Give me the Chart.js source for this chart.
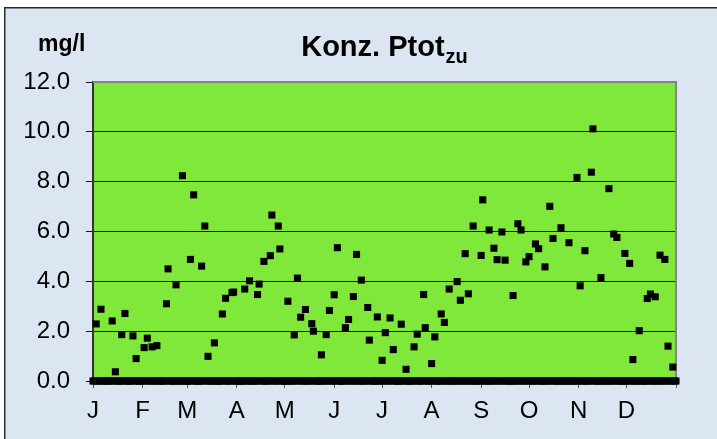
<!DOCTYPE html>
<html>
<head>
<meta charset="utf-8">
<script src="https://cdn.jsdelivr.net/npm/chart.js@4.4.1/dist/chart.umd.min.js"></script>
<style>
  html, body { margin: 0; padding: 0; background: #ffffff; }
  canvas { display: block; }
</style>
</head>
<body>
<canvas id="c" width="717" height="439"></canvas>
<script>
// ---- data ----
const chartTitle = 'Konz. Ptot';
const chartTitleSub = 'zu';
const unitLabel = 'mg/l';
const monthLabels = ['J', 'F', 'M', 'A', 'M', 'J', 'J', 'A', 'S', 'O', 'N', 'D'];
const monthStartDays = [0, 31, 59, 90, 120, 151, 181, 212, 243, 273, 304, 334, 365];
const yTicks = [0, 2, 4, 6, 8, 10, 12];
const daysInYear = 365;

// sampling day of year (0 = 1 Jan) and measured Ptot inflow concentration, mg/l
const sampleDays = [
  2, 5, 12, 14, 18, 20, 25, 27, 32, 34, 37, 40, 46, 47, 52, 56, 61, 63, 68, 70,
  72, 76, 81, 83, 87, 88, 95, 98, 103, 104, 107, 111, 112, 116, 117, 122, 126, 128, 130, 133,
  137, 138, 143, 146, 148, 151, 153, 158, 160, 163, 165, 168, 172, 173, 178, 181, 183, 186, 188, 193,
  196, 201, 203, 207, 208, 212, 214, 218, 220, 223, 228, 230, 233, 235, 238, 243, 244, 248, 251, 253,
  256, 258, 263, 266, 268, 271, 273, 277, 279, 283, 286, 288, 293, 298, 303, 305, 308, 312, 313, 318,
  323, 326, 328, 333, 336, 338, 342, 347, 349, 352, 355, 358, 360, 363
];
const ptotValues = [
  2.29, 2.88, 2.41, 0.37, 1.86, 2.71, 1.81, 0.90, 1.34, 1.72, 1.37, 1.42, 3.10, 4.50, 3.86, 8.24, 4.88, 7.47, 4.61, 6.22,
  0.99, 1.53, 2.69, 3.32, 3.55, 3.57, 3.69, 4.02, 3.47, 3.89, 4.80, 5.03, 6.66, 6.22, 5.30, 3.20, 1.85, 4.13, 2.56, 2.87,
  2.30, 2.00, 1.05, 1.86, 2.83, 3.46, 5.35, 2.14, 2.47, 3.39, 5.08, 4.05, 2.95, 1.64, 2.57, 0.83, 1.94, 2.53, 1.26, 2.28,
  0.47, 1.37, 1.88, 3.47, 2.14, 0.70, 1.77, 2.69, 2.35, 3.69, 3.99, 3.24, 5.11, 3.50, 6.22, 5.04, 7.27, 6.06, 5.33, 4.87,
  5.98, 4.85, 3.43, 6.31, 6.06, 4.78, 4.99, 5.50, 5.31, 4.58, 7.01, 5.72, 6.15, 5.55, 8.17, 3.82, 5.23, 8.38, 10.12, 4.15,
  7.72, 5.90, 5.76, 5.12, 4.72, 0.86, 2.02, 3.31, 3.49, 3.38, 5.05, 4.88, 1.40, 0.56
];

// days without a sample are recorded as 0 in the source table
const sampledSet = new Set(sampleDays);
const zeroPoints = [];
for (let d = 0; d <= daysInYear; d++) {
  if (!sampledSet.has(d)) zeroPoints.push({ x: d, y: 0 });
}
const samplePoints = sampleDays.map((d, i) => ({ x: d, y: ptotValues[i] }));

// ---- styling ----
const FONT = '"Liberation Sans", Arial, sans-serif';
const W = 717, H = 439;

const framePlugin = {
  id: 'frame',
  beforeDraw(chart) {
    const { ctx, chartArea: a } = chart;
    ctx.save();
    ctx.fillStyle = '#ffffff';
    ctx.fillRect(0, 0, W, H);
    ctx.fillStyle = '#dce6f2';
    ctx.fillRect(4, 7, W, H);
    ctx.strokeStyle = '#2a2a2a';
    ctx.lineWidth = 1.5;
    ctx.beginPath();
    ctx.moveTo(4.75, H);
    ctx.lineTo(4.75, 7.75);
    ctx.lineTo(W, 7.75);
    ctx.stroke();
    ctx.fillStyle = '#80e83a';
    ctx.fillRect(a.left, a.top, a.right - a.left, a.bottom - a.top);
    ctx.restore();
  },
  beforeDatasetsDraw(chart) {
    const { ctx, chartArea: a } = chart;
    ctx.save();
    ctx.strokeStyle = '#848484';
    ctx.lineWidth = 2;
    ctx.beginPath();
    ctx.moveTo(a.left, a.top);
    ctx.lineTo(a.right, a.top);
    ctx.lineTo(a.right, a.bottom);
    ctx.stroke();
    ctx.restore();
  },
  afterDraw(chart) {
    const { ctx, chartArea: a } = chart;
    ctx.save();
    ctx.fillStyle = '#000';
    ctx.textBaseline = 'alphabetic';
    ctx.textAlign = 'left';
    ctx.font = 'bold 29px ' + FONT;
    const w1 = ctx.measureText(chartTitle).width;
    ctx.font = 'bold 20px ' + FONT;
    const w2 = ctx.measureText(chartTitleSub).width;
    const cx = (a.left + a.right) / 2;
    const x0 = cx - (w1 + w2 + 1) / 2;
    ctx.font = 'bold 29px ' + FONT;
    ctx.fillText(chartTitle, x0, 56);
    ctx.font = 'bold 20px ' + FONT;
    ctx.fillText(chartTitleSub, x0 + w1 + 1, 63);
    ctx.font = 'bold 23px ' + FONT;
    ctx.fillText(unitLabel, 38, 51);
    ctx.restore();
  }
};

new Chart(document.getElementById('c'), {
  type: 'scatter',
  data: {
    datasets: [
      {
        data: zeroPoints,
        pointStyle: 'rect',
        pointRadius: 5,
        borderWidth: 0,
        backgroundColor: '#000',
        borderColor: '#000',
        showLine: false,
        clip: false
      },
      {
        data: samplePoints,
        pointStyle: 'rect',
        pointRadius: 5,
        borderWidth: 0,
        backgroundColor: '#000',
        borderColor: '#000',
        showLine: false,
        clip: false
      }
    ]
  },
  options: {
    responsive: false,
    animation: false,
    events: [],
    layout: { padding: { left: 0, top: 82, right: 41, bottom: 0 } },
    plugins: {
      legend: { display: false },
      tooltip: { enabled: false },
      title: { display: false }
    },
    scales: {
      x: {
        type: 'linear',
        min: 0,
        max: daysInYear,
        afterBuildTicks: s => { s.ticks = monthStartDays.map(v => ({ value: v })); },
        afterFit: s => { s.height = 58; },
        ticks: {
          autoSkip: false,
          maxRotation: 0,
          minRotation: 0,
          padding: 9,
          color: '#000',
          font: { family: FONT, size: 24 },
          callback: (v, i) => (i < monthLabels.length ? monthLabels[i] : '')
        },
        grid: {
          drawOnChartArea: false,
          drawTicks: true,
          tickLength: 7,
          color: '#555',
          lineWidth: 1
        },
        border: { display: false }
      },
      y: {
        min: 0,
        max: 12,
        afterBuildTicks: s => { s.ticks = yTicks.map(v => ({ value: v })); },
        afterFit: s => { s.width = 93; },
        ticks: {
          padding: 16,
          color: '#000',
          font: { family: FONT, size: 24 },
          callback: v => Number(v).toFixed(1)
        },
        grid: {
          drawOnChartArea: true,
          drawTicks: true,
          tickLength: 7,
          lineWidth: 1,
          color: c => (c.tick && c.tick.value === 12 ? '#848484' : '#111'),
          tickColor: '#111'
        },
        border: { display: true, color: '#333', width: 2 }
      }
    }
  },
  plugins: [framePlugin]
});
</script>
</body>
</html>
